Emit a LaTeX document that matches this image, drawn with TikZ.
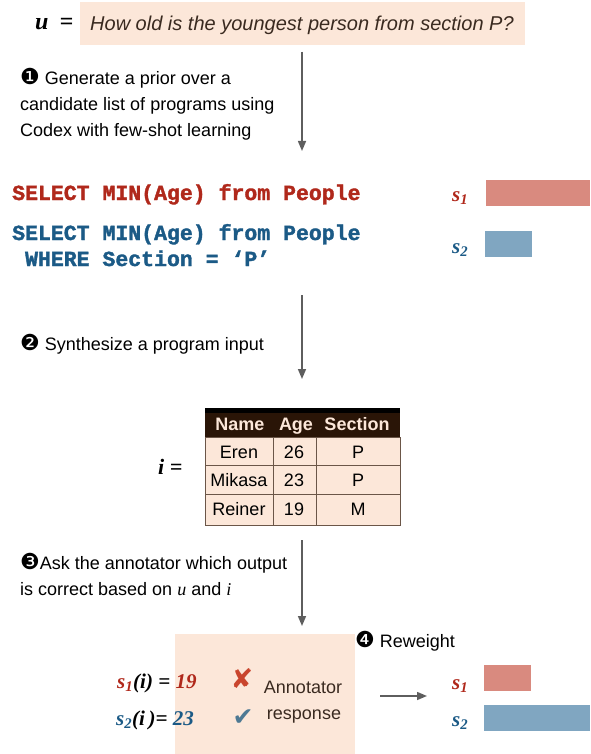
\documentclass[tikz,border=0pt]{standalone}
\usepackage{fontspec}
\setmainfont{Liberation Serif}
\setsansfont{Liberation Sans}
\setmonofont[BoldFeatures={FakeBold=1.6}]{Liberation Mono}
\newfontfamily\dingfont{DejaVu Sans}
\usetikzlibrary{arrows.meta}
\definecolor{peach}{HTML}{FCE7D9}
\definecolor{sqlred}{HTML}{B0281B}
\definecolor{sqlblue}{HTML}{1B5A86}
\definecolor{barred}{HTML}{D98A7F}
\definecolor{barblue}{HTML}{80A6C1}
\definecolor{arrowgray}{HTML}{5E5E5E}
\definecolor{headbrown}{HTML}{2A1507}
\definecolor{gridbrown}{HTML}{6B5648}
\definecolor{qtext}{HTML}{3A2A20}
\definecolor{crossred}{HTML}{C9452D}
\definecolor{tickblue}{HTML}{4E7993}
\newcommand{\stepmark}[1]{{\dingfont\fontsize{22}{22}\selectfont #1}}
\tikzstyle{stepnote}=[anchor=base west,inner sep=0pt,font=\sffamily\fontsize{18}{22}\selectfont]
\tikzstyle{sql}=[anchor=base west,inner sep=0pt,font=\ttfamily\bfseries\fontsize{21.5}{26}\selectfont]
\tikzstyle{score}=[anchor=base west,inner sep=0pt,font=\bfseries\itshape\fontsize{21}{24}\selectfont]
\tikzstyle{bar}=[inner sep=0pt,anchor=north west,minimum height=26pt]
\tikzstyle{cell}=[anchor=base,inner sep=0pt,font=\sffamily\fontsize{18}{22}\selectfont]
\tikzstyle{flow}=[-{Triangle[length=10pt,width=8pt]},draw=arrowgray,fill=arrowgray,line width=1.5pt]
\tikzset{x=1pt,y=-1pt}

\begin{document}
\begin{tikzpicture}
      \useasboundingbox (0,0) rectangle (590,754);
      % question
      \node[score,font=\bfseries\itshape\fontsize{24}{24}\selectfont] at (35,30) (ulabel) {u\hspace{11pt}=};
      \fill[peach] (80,2) rectangle (525,45);
      \node[anchor=base west,inner sep=0pt,text=qtext,font=\sffamily\itshape\fontsize{20}{24}\selectfont] at (90,31) (question) {How old is the youngest person from section P?};
      \coordinate (a1top) at (302,52);
      \coordinate (a1end) at (302,151);
      \draw[flow] (a1top) -- (a1end);
      \node[stepnote] at (20,85) (step1a) {\stepmark{❶} Generate a prior over a};
      \node[stepnote] at (20,111) (step1b) {candidate list of programs using};
      \node[stepnote] at (20,137) (step1c) {Codex with few-shot learning};
      % candidate programs
      \node[sql,text=sqlred] at (12,200) (prog1) {SELECT MIN(Age) from People};
      \node[sql,text=sqlblue] at (12,240) (prog2a) {SELECT MIN(Age) from People};
      \node[sql,text=sqlblue] at (12,266) (prog2b) {~WHERE Section = ‘P’};
      \node[score,text=sqlred] at (452,201) (s1) {s\textsubscript{1}};
      \node[score,text=sqlblue] at (452,253) (s2) {s\textsubscript{2}};
      \node[bar,fill=barred,minimum width=104pt] at (486,180) (bar1) {};
      \node[bar,fill=barblue,minimum width=47pt] at (485,231) (bar2) {};
      \coordinate (a2top) at (302,295);
      \coordinate (a2end) at (302,379);
      \draw[flow] (a2top) -- (a2end);
      \node[stepnote] at (20,350) (step2) {\stepmark{❷} Synthesize a program input};
      % program input
      \node[score,font=\bfseries\itshape\fontsize{22}{26}\selectfont] at (158,474) (ilabel) {i =};
      \fill[peach] (205,437) rectangle (400,525);
      \fill[headbrown] (205,408) rectangle (400,437);
      \fill[black] (205,408) rectangle (400,413);
      \draw[gridbrown,line width=1pt] (205,437) rectangle (400,525);
      \draw[gridbrown,line width=1pt] (205,465) -- (400,465) (205,494) -- (400,494)
        (273,437) -- (273,525) (316,437) -- (316,525);
      \node[cell,text=peach,font=\sffamily\bfseries\fontsize{18}{22}\selectfont] at (240,430) (hname) {Name};
      \node[cell,text=peach,font=\sffamily\bfseries\fontsize{18}{22}\selectfont] at (296,430) (hage) {Age};
      \node[cell,text=peach,font=\sffamily\bfseries\fontsize{18}{22}\selectfont] at (357,430) (hsec) {Section};
      \node[cell] at (239,458) (n1) {Eren};
      \node[cell] at (294,458) (g1) {26};
      \node[cell] at (358,458) (c1) {P};
      \node[cell] at (239,486) (n2) {Mikasa};
      \node[cell] at (294,486) (g2) {23};
      \node[cell] at (358,486) (c2) {P};
      \node[cell] at (239,515) (n3) {Reiner};
      \node[cell] at (294,515) (g3) {19};
      \node[cell] at (358,515) (c3) {M};
      \coordinate (a3top) at (302,540);
      \coordinate (a3end) at (302,626);
      \draw[flow] (a3top) -- (a3end);
      \node[stepnote] at (20,569) (step3a) {\stepmark{❸}Ask the annotator which output};
      \node[stepnote] at (20,595) (step3b) {is correct based on {\rmfamily\itshape u} and {\rmfamily\itshape i}};
      % annotator response
      \fill[peach] (175,634) rectangle (355,754);
      \node[score] at (117,688) (out1) {\textcolor{sqlred}{s\textsubscript{1}}(i) = \textcolor{sqlred}{19}};
      \node[score] at (116,725) (out2) {\textcolor{sqlblue}{s\textsubscript{2}}(i\,)= \textcolor{sqlblue}{23}};
      \node[anchor=center,inner sep=0pt,text=crossred,font=\dingfont\fontsize{27}{27}\selectfont] at (242,679) (cross) {✘};
      \node[anchor=center,inner sep=0pt,text=tickblue,font=\dingfont\fontsize{25}{25}\selectfont] at (243,718) (tick) {✔};
      \node[cell,text=qtext] at (303,693) (resp1) {Annotator};
      \node[cell,text=qtext] at (304,719) (resp2) {response};
      \node[stepnote] at (355,647) (step4) {\stepmark{❹} Reweight};
      \coordinate (a4start) at (380,696);
      \coordinate (a4end) at (427,696);
      \draw[flow] (a4start) -- (a4end);
      \node[score,text=sqlred] at (452,689) (s1new) {s\textsubscript{1}};
      \node[score,text=sqlblue] at (452,726) (s2new) {s\textsubscript{2}};
      \node[bar,fill=barred,minimum width=47pt] at (484,665) (bar1new) {};
      \node[bar,fill=barblue,minimum width=106pt] at (484,705) (bar2new) {};
\end{tikzpicture}
\end{document}
